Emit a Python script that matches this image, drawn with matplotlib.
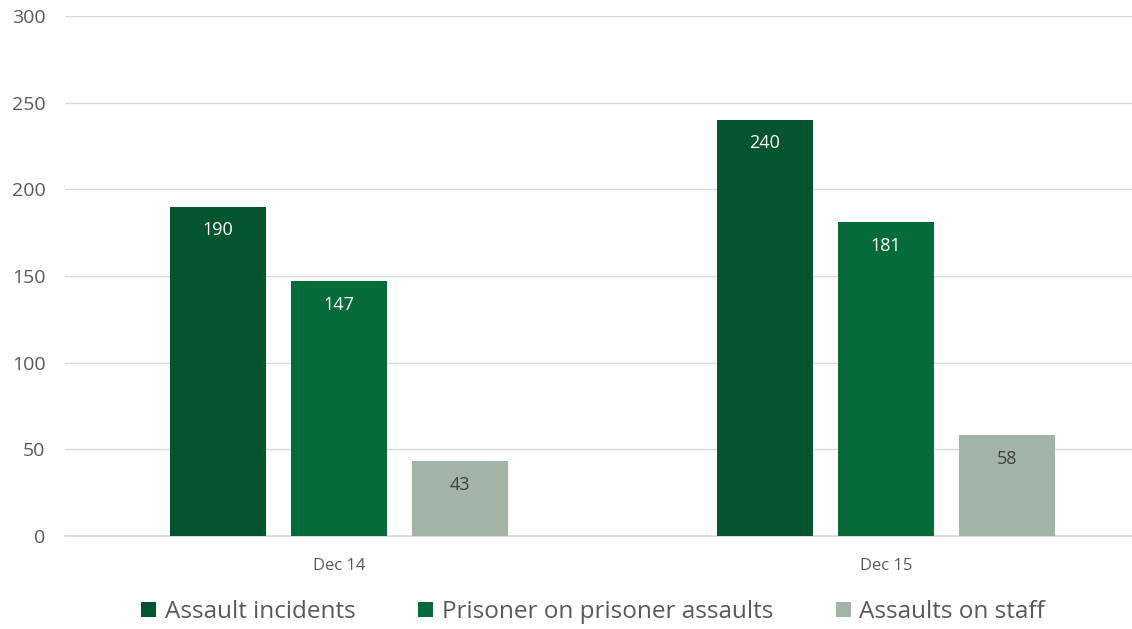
import matplotlib.pyplot as plt
import numpy as np

plt.rcParams['font.family'] = ['Open Sans', 'DejaVu Sans']

categorias = ['Dec 14', 'Dec 15']
series = ['Assault incidents', 'Prisoner on prisoner assaults', 'Assaults on staff']
assault_incidents = [190, 240]
prisoner_assaults = [147, 181]
assaults_staff = [43, 58]
cores = ['#04542E', '#056B39', '#A2B3A8']
cores_texto = ['white', 'white', '#404040']

fig = plt.figure(figsize=(11.32, 6.29), dpi=100)
ax = fig.add_axes([65 / 1132, 1 - 536 / 629, 1 - 65 / 1132, (536 - 16) / 629])

x = np.arange(len(categorias))
largura = 0.1755
passo = 0.2212
valores = [assault_incidents, prisoner_assaults, assaults_staff]
for i, (nome, vals) in enumerate(zip(series, valores)):
    pos = x + (i - 1) * passo
    ax.bar(pos, vals, width=largura, color=cores[i], label=nome, zorder=3)
    for p, v in zip(pos, vals):
        ax.text(p, v - 13.5, str(v), ha='center', va='center', color=cores_texto[i], fontsize=13, zorder=4)

ax.set_ylim(0, 300)
ax.set_xlim(-0.501, 1.45)
ax.set_yticks(range(0, 301, 50))
ax.grid(axis='y', color='#D9D9D9', linewidth=1, zorder=0)
ax.axhline(0, color='#D9D9D9', linewidth=1.2, clip_on=False, zorder=2)
for s in ax.spines.values():
    s.set_visible(False)
ax.tick_params(axis='y', length=0, labelsize=14, labelcolor='#595959', pad=14)
ax.set_xticks(x)
ax.set_xticklabels(categorias)
ax.tick_params(axis='x', length=0, labelsize=12, labelcolor='#595959', pad=16)

ax.legend(loc='center', bbox_to_anchor=(0.495, -0.146), ncol=3, frameon=False,
          fontsize=17.5, labelcolor='#595959', handlelength=0.6, handleheight=0.6,
          handletextpad=0.35, columnspacing=2.6)

fig.savefig('out.png', dpi=100)
